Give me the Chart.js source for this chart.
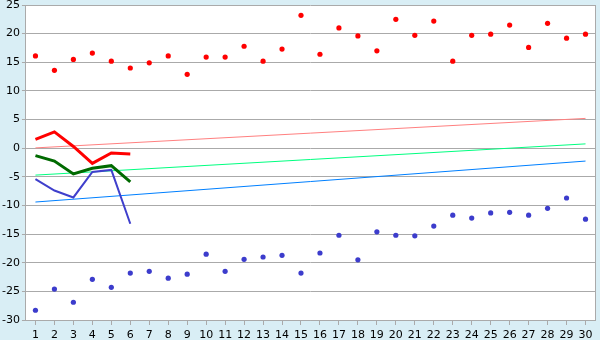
<!DOCTYPE html>
<html><head><meta charset="utf-8">
<script src="https://cdn.jsdelivr.net/npm/chart.js@4/dist/chart.umd.min.js"></script>
<style>
html,body{margin:0;padding:0;background:#d9eef5;}
#wrap{width:600px;height:340px;position:relative;}
</style></head>
<body><div id="wrap"><canvas id="c" width="600" height="340"></canvas></div>
<script>
const categories = ['1','2','3','4','5','6','7','8','9','10','11','12','13','14','15','16','17','18','19','20','21','22','23','24','25','26','27','28','29','30'];
const highPoints = [16.1,13.6,15.5,16.6,15.2,14.0,14.9,16.1,12.9,15.9,15.9,17.8,15.2,17.3,23.2,16.4,21.0,19.6,17.0,22.5,19.7,22.2,15.2,19.7,19.9,21.5,17.6,21.8,19.2,19.9];
const lowPoints = [-28.3,-24.6,-26.9,-22.9,-24.3,-21.8,-21.5,-22.7,-22.0,-18.5,-21.5,-19.4,-19.0,-18.7,-21.8,-18.3,-15.2,-19.5,-14.6,-15.2,-15.3,-13.6,-11.7,-12.2,-11.3,-11.2,-11.7,-10.5,-8.7,-12.4];
const redLine = [1.55,2.85,0.3,-2.65,-0.85,-1.0];
const greenLine = [-1.3,-2.25,-4.5,-3.5,-3.05,-5.9];
const blueLine = [-5.4,-7.4,-8.6,-4.15,-3.8,-13.2];
const redTrend = [0.05,5.2];
const greenTrend = [-4.7,0.75];
const blueTrend = [-9.4,-2.25];
const yTicks = [25,20,15,10,5,0,-5,-10,-15,-20,-25,-30];

function trend(v){ return [{x:categories[0],y:v[0]},{x:categories[categories.length-1],y:v[1]}]; }

const frame = {
  id:'frame',
  afterDraw(chart){
    const a = chart.chartArea, ctx = chart.ctx;
    ctx.save();
    ctx.strokeStyle = '#aaaaaa'; ctx.lineWidth = 1;
    ctx.beginPath();
    ctx.moveTo(Math.round(a.right)+0.5, a.top);
    ctx.lineTo(Math.round(a.right)+0.5, a.bottom);
    ctx.stroke();
    ctx.restore();
  }
};
const bg = {
  id:'bg',
  beforeDraw(chart){
    const a = chart.chartArea, ctx = chart.ctx;
    ctx.save();
    ctx.fillStyle = '#d9eef5';
    ctx.fillRect(0,0,chart.width,chart.height);
    ctx.fillStyle = '#ffffff';
    ctx.fillRect(a.left,a.top,a.right-a.left,a.bottom-a.top);
    ctx.restore();
  }
};

new Chart(document.getElementById('c'), {
  type:'line',
  data:{
    labels:categories,
    datasets:[
      {data:highPoints, showLine:false, pointStyle:'circle', pointRadius:2.6, pointBackgroundColor:'#ff0000', pointBorderColor:'#ff0000', pointBorderWidth:0, order:1},
      {data:lowPoints, showLine:false, pointStyle:'circle', pointRadius:2.6, pointBackgroundColor:'#3c3ccc', pointBorderColor:'#3c3ccc', pointBorderWidth:0, order:1},
      {data:redLine, borderColor:'#ff0000', borderWidth:3, pointRadius:0, tension:0, order:2},
      {data:greenLine, borderColor:'#006a00', borderWidth:3, pointRadius:0, tension:0, order:2},
      {data:blueLine, borderColor:'#3f3fcc', borderWidth:2, pointRadius:0, tension:0, order:2},
      {data:trend(redTrend), borderColor:'#ff8080', borderWidth:1, pointRadius:0, order:3},
      {data:trend(greenTrend), borderColor:'#00ff80', borderWidth:1, pointRadius:0, order:3},
      {data:trend(blueTrend), borderColor:'#0080ff', borderWidth:1, pointRadius:0, order:3}
    ]
  },
  options:{
    responsive:false, animation:false,
    layout:{padding:{top:0,right:5,left:0,bottom:0}},
    plugins:{legend:{display:false}, tooltip:{enabled:false}},
    scales:{
      x:{
        type:'category', offset:true,
        afterFit(axis){ axis.height = 20; },
        grid:{display:true, drawOnChartArea:false, drawTicks:true, tickLength:5, offset:false, color:'#aaaaaa'},
        border:{display:true, color:'#aaaaaa'},
        ticks:{color:'#000', font:{family:'DejaVu Sans', size:11}, maxRotation:0, autoSkip:false, padding:4}
      },
      y:{
        min:-30, max:25,
        afterBuildTicks(axis){ axis.ticks = yTicks.map(v=>({value:v})); },
        afterFit(axis){ axis.paddingTop = 5; axis.paddingBottom = 0; },
        grid:{color:'#aaaaaa', tickLength:4, drawTicks:true},
        border:{display:true, color:'#aaaaaa'},
        ticks:{color:'#000', font:{family:'DejaVu Sans', size:11}, padding:2}
      }
    }
  },
  plugins:[bg, frame]
});
</script></body></html>
